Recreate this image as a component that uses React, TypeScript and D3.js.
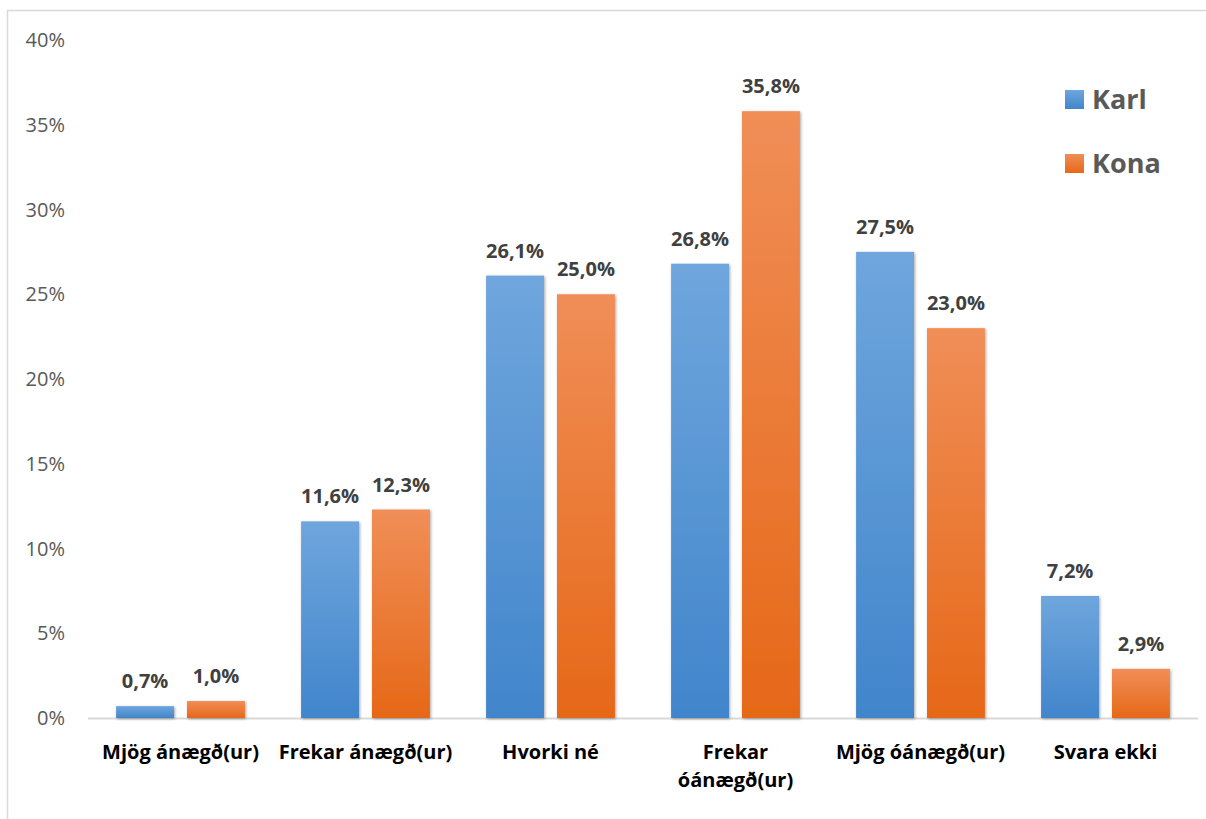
import React from "react";
import * as d3 from "d3";

const categories = ["Mjög ánægð(ur)", "Frekar ánægð(ur)", "Hvorki né", "Frekar óánægð(ur)", "Mjög óánægð(ur)", "Svara ekki"];
const categoryLines = [["Mjög ánægð(ur)"], ["Frekar ánægð(ur)"], ["Hvorki né"], ["Frekar", "óánægð(ur)"], ["Mjög óánægð(ur)"], ["Svara ekki"]];
const karl = [0.7, 11.6, 26.1, 26.8, 27.5, 7.2];
const kona = [1.0, 12.3, 25.0, 35.8, 23.0, 2.9];
const seriesNames = ["Karl", "Kona"];
const yTicks = [0, 5, 10, 15, 20, 25, 30, 35, 40];

const W = 1206, H = 819;
const plotLeft = 88, plotRight = 1198, plotTop = 40, plotBottom = 718;

export default function App() {
  const x0 = d3.scaleBand<string>().domain(categories).range([plotLeft, plotRight]).paddingInner(0).paddingOuter(0);
  const y = d3.scaleLinear().domain([0, 40]).range([plotBottom, plotTop]);
  const bw = x0.bandwidth();
  const barW = bw * 0.313;
  const gap = 13;
  const series = [karl, kona];
  const fmt = (v: number) => v.toFixed(1).replace(".", ",") + "%";
  const font = "'Open Sans', 'Noto Sans', sans-serif";

  return (
    <svg width={W} height={H} style={{ position: "absolute", left: 0, top: 0 }}>
      <defs>
        <linearGradient id="gK" x1="0" y1="0" x2="0" y2="1">
          <stop offset="0" stopColor="#6fa6dd" />
          <stop offset="1" stopColor="#4185cb" />
        </linearGradient>
        <linearGradient id="gO" x1="0" y1="0" x2="0" y2="1">
          <stop offset="0" stopColor="#f08e57" />
          <stop offset="1" stopColor="#e66818" />
        </linearGradient>
        <filter id="sh" x="-20%" y="-20%" width="140%" height="140%">
          <feGaussianBlur in="SourceAlpha" stdDeviation="1.5" />
          <feOffset dx="1" dy="1" result="b" />
          <feComponentTransfer><feFuncA type="linear" slope="0.35" /></feComponentTransfer>
          <feMerge><feMergeNode /><feMergeNode in="SourceGraphic" /></feMerge>
        </filter>
      </defs>
      <rect x={0} y={0} width={W} height={H} fill="#fff" />
      <rect x={7.5} y={10.5} width={W} height={H} fill="none" stroke="#d9d9d9" strokeWidth={1.5} />
      {yTicks.map(t => (
        <text key={t} x={65} y={y(t)} dy="0.35em" textAnchor="end" fontFamily={font} fontSize={20} fill="#595959">{t}%</text>
      ))}
      <line x1={plotLeft} x2={plotRight} y1={plotBottom + 0.5} y2={plotBottom + 0.5} stroke="#d9d9d9" strokeWidth={2} />
      {categories.map((c, i) => {
        const cx = (x0(c) as number) + bw / 2;
        return (
          <g key={c}>
            {series.map((s, si) => {
              const bx = si === 0 ? cx - gap / 2 - barW : cx + gap / 2;
              const v = s[i];
              return (
                <g key={si}>
                  <rect x={bx} y={y(v)} width={barW} height={plotBottom - y(v)} fill={si === 0 ? "url(#gK)" : "url(#gO)"} filter="url(#sh)" />
                  <text x={bx + barW / 2} y={y(v) - 18} textAnchor="middle" fontFamily={font} fontWeight={700} fontSize={20} fill="#404040">{fmt(v)}</text>
                </g>
              );
            })}
            {categoryLines[i].map((ln, li) => (
              <text key={li} x={cx} y={759 + li * 28} textAnchor="middle" fontFamily={font} fontWeight={700} fontSize={20} fill="#000">{ln}</text>
            ))}
          </g>
        );
      })}
      {seriesNames.map((n, i) => (
        <g key={n}>
          <rect x={1065} y={90 + i * 64} width={19} height={19} fill={i === 0 ? "url(#gK)" : "url(#gO)"} />
          <text x={1092} y={99 + i * 64} dy="0.36em" fontFamily={font} fontWeight={700} fontSize={27} fill="#595959">{n}</text>
        </g>
      ))}
    </svg>
  );
}
